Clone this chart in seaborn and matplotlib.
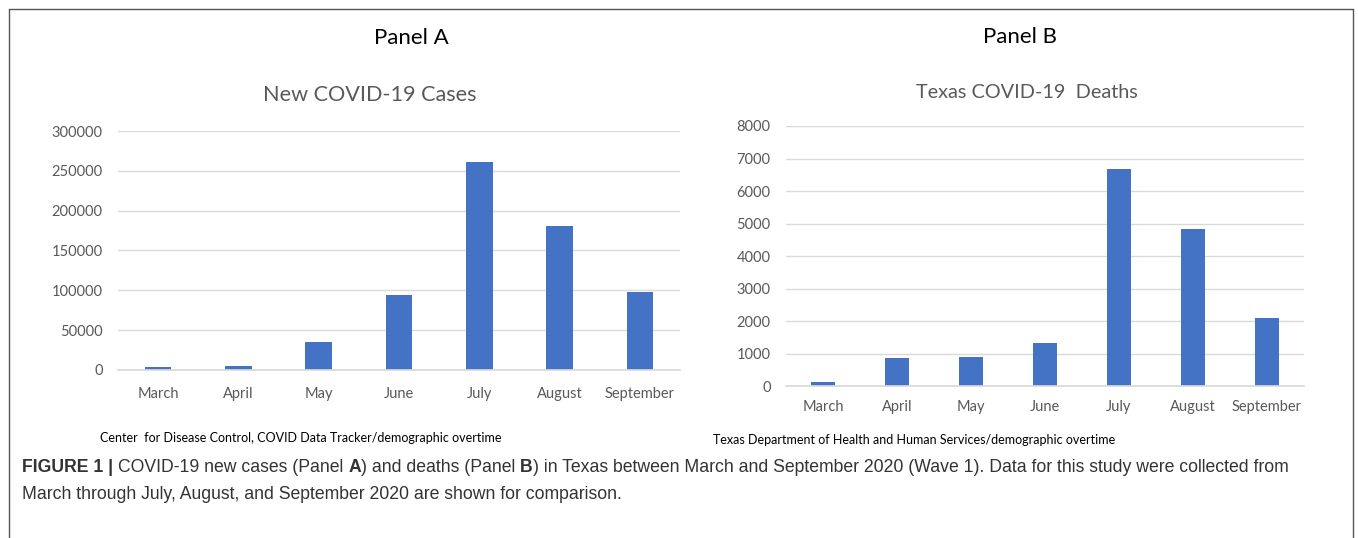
import matplotlib
matplotlib.use("Agg")
import matplotlib.pyplot as plt
import seaborn as sns
import pandas as pd
from matplotlib.lines import Line2D

months = ["March", "April", "May", "June", "July", "August", "September"]
new_cases = [3500, 4800, 35500, 94000, 261500, 180700, 98300]
deaths = [110, 870, 900, 1330, 6670, 4820, 2100]
cases_ticks = [0, 50000, 100000, 150000, 200000, 250000, 300000]
deaths_ticks = [0, 1000, 2000, 3000, 4000, 5000, 6000, 7000, 8000]

sns.set_theme(style="white")
plt.rcParams["font.family"] = ["Lato", "DejaVu Sans"]

BLUE = "#4472C4"
GREY = "#595959"
GRID = "#D9D9D9"
W, H = 1358, 538

fig = plt.figure(figsize=(13.58, 5.38), dpi=100)

def draw_panel(ax, values, ticks, xpad, ypad):
    df = pd.DataFrame({"month": months, "value": values})
    sns.barplot(data=df, x="month", y="value", color=BLUE, width=0.33,
                saturation=1, linewidth=0, ax=ax)
    ax.set_ylim(ticks[0], ticks[-1])
    ax.set_yticks(ticks)
    ax.set_yticklabels([str(t) for t in ticks])
    ax.set_xlim(-0.5, len(months) - 0.5)
    ax.yaxis.grid(True, color=GRID, linewidth=1)
    ax.set_axisbelow(True)
    for s in ax.spines.values():
        s.set_visible(False)
    ax.spines["bottom"].set_visible(True)
    ax.spines["bottom"].set_color(GRID)
    ax.tick_params(axis="both", length=0, labelsize=10.5, colors=GREY)
    ax.tick_params(axis="x", pad=xpad)
    ax.tick_params(axis="y", pad=ypad)
    ax.set_xlabel("")
    ax.set_ylabel("")

ax1 = fig.add_axes([0.0869, 0.3123, 0.4138, 0.4442])
draw_panel(ax1, new_cases, cases_ticks, 12, 11)

ax2 = fig.add_axes([0.5788, 0.2825, 0.3814, 0.4833])
draw_panel(ax2, deaths, deaths_ticks, 10, 11)

# chart titles (centred on the chart area, as in Excel)
fig.text(370 / W, 1 - 95 / H, "New COVID-19 Cases", ha="center", va="center",
         fontsize=15.6, color=GREY)
fig.text(1027 / W, 1 - 92 / H, "Texas COVID-19  Deaths", ha="center",
         va="center", fontsize=14.3, color=GREY)

fig.text(411 / W, 1 - 38 / H, "Panel A", ha="center", va="center",
         fontsize=16, color="black")
fig.text(1020 / W, 1 - 37 / H, "Panel B", ha="center", va="center",
         fontsize=16, color="black")

fig.text(100 / W, 1 - 438 / H,
         "Center  for Disease Control, COVID Data Tracker/demographic overtime",
         ha="left", va="center", fontsize=9.0, color="black")
fig.text(713 / W, 1 - 440 / H,
         "Texas Department of Health and Human Services/demographic overtime",
         ha="left", va="center", fontsize=9.0, color="black")

# caption, built from normal and bold pieces chained one after another
cap_font = ["Liberation Sans", "DejaVu Sans"]
cap_size = 12.7

def caption_line(y, pieces):
    prev = fig.text(22 / W, 1 - y / H, pieces[0][0], ha="left", va="bottom",
                    fontsize=cap_size, fontweight=pieces[0][1],
                    color="#333333", family=cap_font)
    for txt, wt in pieces[1:]:
        prev = ax1.annotate(txt, xy=(1, 0), xycoords=prev, ha="left",
                            va="bottom", fontsize=cap_size, fontweight=wt,
                            color="#333333", family=cap_font,
                            annotation_clip=False)

caption_line(476, [("FIGURE 1 | ", "bold"),
                   ("COVID-19 new cases (Panel ", "normal"), ("A", "bold"),
                   (") and deaths (Panel ", "normal"), ("B", "bold"),
                   (") in Texas between March and September 2020 (Wave 1). "
                    "Data for this study were collected from", "normal")])
caption_line(503, [("March through July, August, and September 2020 are "
                    "shown for comparison.", "normal")])

# frame around the figure (left, top, right)
x0, x1, y1 = 9 / W, 1353 / W, 1 - 9 / H
for xs, ys in [([x0, x0], [0, y1]), ([x0, x1], [y1, y1]), ([x1, x1], [y1, 0])]:
    fig.add_artist(Line2D(xs, ys, transform=fig.transFigure, color="#555555",
                          linewidth=1))

fig.savefig("out.png", dpi=100, facecolor="white")
